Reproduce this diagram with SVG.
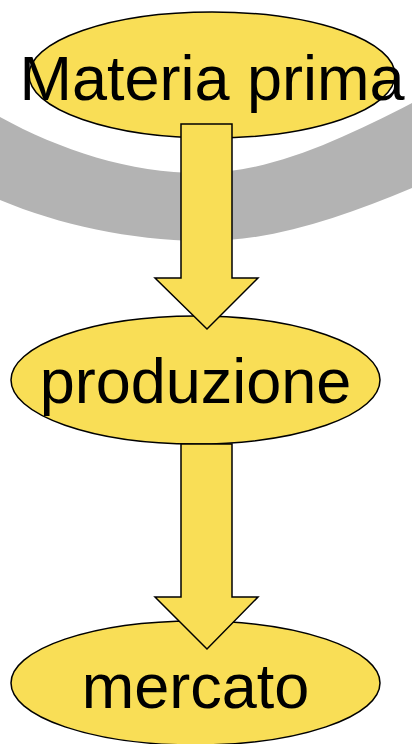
<svg xmlns="http://www.w3.org/2000/svg" width="412" height="744" viewBox="0 0 412 744">
<style>
.node{fill:#F9DE56;stroke:#000;stroke-width:1.5}
.arrow{fill:#F9DE56;stroke:#000;stroke-width:1.5;stroke-linejoin:miter}
.lbl{font-family:"Liberation Sans",Arial,sans-serif;font-size:63px;fill:#000;text-anchor:middle}
</style>
<rect width="412" height="744" fill="#fff"/>
<path id="swoosh" d="M0,117 C60,150 130,173 200,173 C270,173 340,140 412,103 L412,188 C340,218 270,242 200,241 C130,240 60,225 0,200 Z" fill="#B3B3B3"/>
<g id="n1"><ellipse class="node" cx="212" cy="75" rx="183" ry="63"/></g>
<g id="n2"><ellipse class="node" cx="195.5" cy="380" rx="184.5" ry="64"/></g>
<g id="n3"><ellipse class="node" cx="195.5" cy="683" rx="184.5" ry="62"/></g>
<g id="connectors">
<path class="arrow" d="M181,124 L232,124 L232,278 L258,278 L207,329 L155,278 L181,278 Z"/>
<path class="arrow" d="M181,444 L232,444 L232,597 L258,597 L207,649 L155,597 L181,597 Z"/>
</g>
<g id="labels">
<text class="lbl" x="212" y="100">Materia prima</text>
<text class="lbl" x="195.5" y="403">produzione</text>
<text class="lbl" x="195.5" y="708">mercato</text>
</g>
</svg>
